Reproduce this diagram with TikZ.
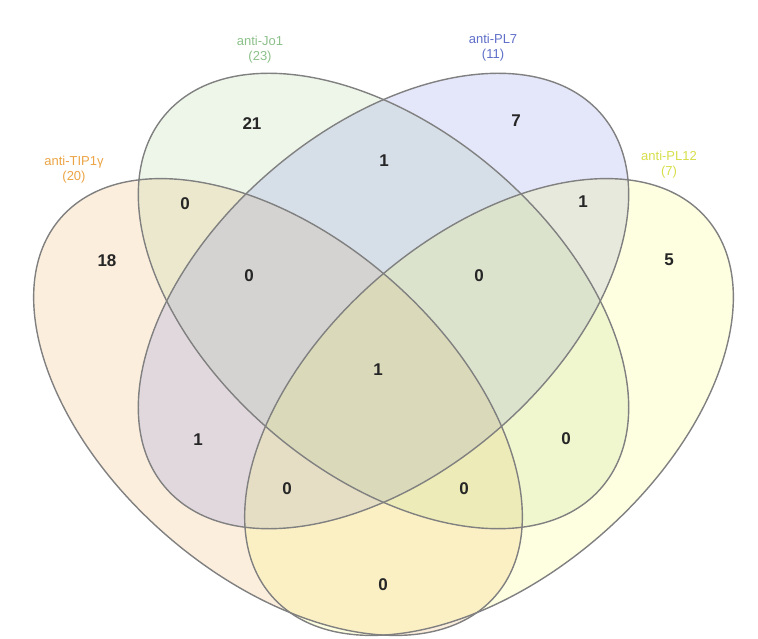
\documentclass[tikz,border=0pt]{standalone}
\usepackage{fontspec}
\setmainfont{Liberation Sans}
\definecolor{cOr}{HTML}{EEA142}
\definecolor{cGr}{HTML}{A1CD8A}
\definecolor{cBl}{HTML}{6974E3}
\definecolor{cYe}{HTML}{F9F953}
\definecolor{tOr}{HTML}{EBA444}
\definecolor{tGr}{HTML}{8CC08A}
\definecolor{tBl}{HTML}{5F6EC8}
\definecolor{tYe}{HTML}{D6DE48}
\definecolor{edge}{HTML}{808080}
\begin{document}
\begin{tikzpicture}[x=1pt,y=-1pt,
  setfill/.style={fill=#1,fill opacity=0.18,draw=none},
  setline/.style={draw=edge,line width=1.4pt},
  count/.style={font=\fontsize{17}{17}\selectfont\bfseries,text=black!85,inner sep=0pt},
  setlabel/.style={font=\fontsize{13}{15}\selectfont,align=center,inner sep=0pt}]
\useasboundingbox (0,0) rectangle (758,639);
\coordinate (cO) at (278,407);
\coordinate (cY) at (489,407);
\coordinate (cM) at (383.5,301);
% fills
\fill[setfill=cOr,rotate around={-41:(cO)}] (cO) ellipse [x radius=288pt,y radius=170pt];
\fill[setfill=cGr,rotate around={-40.5:(cM)}] (cM) ellipse [x radius=287pt,y radius=172pt];
\fill[setfill=cBl,rotate around={40.5:(cM)}] (cM) ellipse [x radius=287pt,y radius=172pt];
\fill[setfill=cYe,rotate around={41:(cY)}] (cY) ellipse [x radius=288pt,y radius=170pt];
% outlines
\draw[setline,rotate around={-41:(cO)}] (cO) ellipse [x radius=288pt,y radius=170pt];
\draw[setline,rotate around={-40.5:(cM)}] (cM) ellipse [x radius=287pt,y radius=172pt];
\draw[setline,rotate around={40.5:(cM)}] (cM) ellipse [x radius=287pt,y radius=172pt];
\draw[setline,rotate around={41:(cY)}] (cY) ellipse [x radius=288pt,y radius=170pt];
% set labels
\node[setlabel,text=tGr] (lJo) at (260,50) {anti-Jo1\\(23)};
\node[setlabel,text=tBl] (lPL7) at (493,48) {anti-PL7\\(11)};
\node[setlabel,text=tOr] (lTIP) at (74,170) {anti-TIP1γ\\(20)};
\node[setlabel,text=tYe] (lPL12) at (669,165) {anti-PL12\\(7)};
% counts
\node[count] (n21) at (252,124) {21};
\node[count] (n7) at (516,121) {7};
\node[count] (nOG) at (185,204) {0};
\node[count] (nGB) at (384,161) {1};
\node[count] (nBY) at (583,202) {1};
\node[count] (n18) at (107,261) {18};
\node[count] (nOGB) at (249,276) {0};
\node[count] (nGBY) at (479,276) {0};
\node[count] (n5) at (669,260) {5};
\node[count] (nAll) at (378,370) {1};
\node[count] (nOB) at (198,440) {1};
\node[count] (nGY) at (566,439) {0};
\node[count] (nOBY) at (287,489) {0};
\node[count] (nOGY) at (464,489) {0};
\node[count] (nOY) at (383,585) {0};
\end{tikzpicture}
\end{document}
